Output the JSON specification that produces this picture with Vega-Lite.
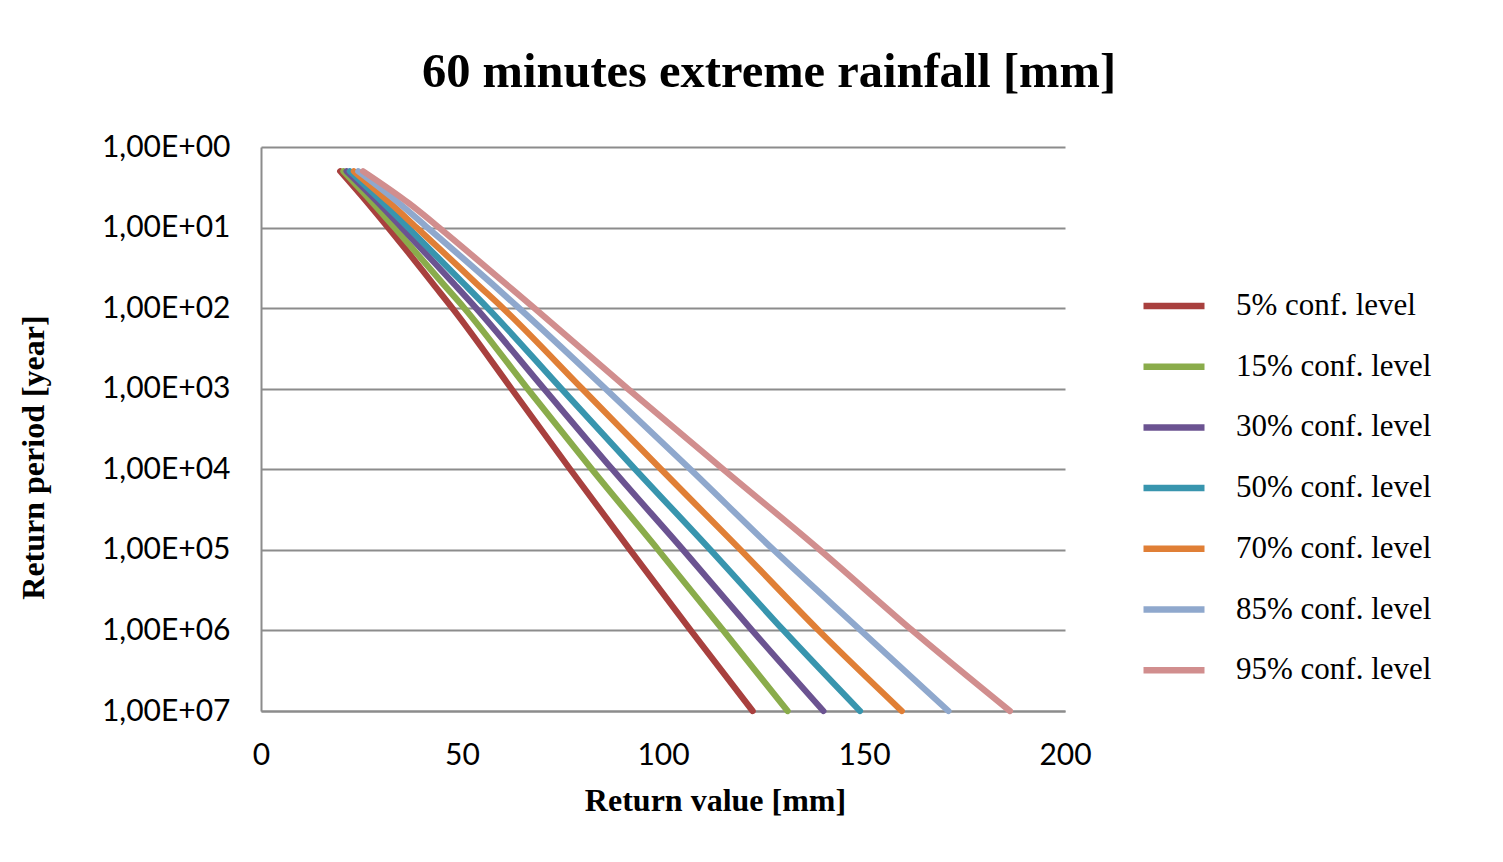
{
  "$schema": "https://vega.github.io/schema/vega-lite/v6.json",
  "width": 804,
  "height": 564,
  "autosize": "none",
  "padding": {"left": 261, "top": 147, "right": 438, "bottom": 151},
  "background": "white",
  "title": {
    "text": "60 minutes extreme rainfall [mm]",
    "font": "Liberation Serif",
    "fontWeight": "bold",
    "fontSize": 48.5,
    "color": "black",
    "anchor": "middle",
    "frame": "group",
    "dx": 106,
    "baseline": "alphabetic",
    "offset": -3
  },
  "data": {
    "values": [
      {"level": "5% conf. level", "T": 2, "v": 19.7},
      {"level": "5% conf. level", "T": 5, "v": 26.6},
      {"level": "5% conf. level", "T": 10, "v": 31.6},
      {"level": "5% conf. level", "T": 20, "v": 36.5},
      {"level": "5% conf. level", "T": 50, "v": 42.8},
      {"level": "5% conf. level", "T": 100, "v": 47.6},
      {"level": "5% conf. level", "T": 1000, "v": 62.3},
      {"level": "5% conf. level", "T": 10000, "v": 76.9},
      {"level": "5% conf. level", "T": 100000, "v": 91.8},
      {"level": "5% conf. level", "T": 1000000, "v": 106.9},
      {"level": "5% conf. level", "T": 10000000, "v": 122.3},
      {"level": "15% conf. level", "T": 2, "v": 20.5},
      {"level": "15% conf. level", "T": 5, "v": 27.9},
      {"level": "15% conf. level", "T": 10, "v": 33.2},
      {"level": "15% conf. level", "T": 20, "v": 38.4},
      {"level": "15% conf. level", "T": 50, "v": 45.3},
      {"level": "15% conf. level", "T": 100, "v": 50.6},
      {"level": "15% conf. level", "T": 1000, "v": 66.3},
      {"level": "15% conf. level", "T": 10000, "v": 82.3},
      {"level": "15% conf. level", "T": 100000, "v": 98.8},
      {"level": "15% conf. level", "T": 1000000, "v": 115.0},
      {"level": "15% conf. level", "T": 10000000, "v": 131.0},
      {"level": "30% conf. level", "T": 2, "v": 21.3},
      {"level": "30% conf. level", "T": 5, "v": 29.3},
      {"level": "30% conf. level", "T": 10, "v": 35.0},
      {"level": "30% conf. level", "T": 20, "v": 40.6},
      {"level": "30% conf. level", "T": 50, "v": 48.0},
      {"level": "30% conf. level", "T": 100, "v": 53.5},
      {"level": "30% conf. level", "T": 1000, "v": 70.4},
      {"level": "30% conf. level", "T": 10000, "v": 87.4},
      {"level": "30% conf. level", "T": 100000, "v": 105.0},
      {"level": "30% conf. level", "T": 1000000, "v": 122.2},
      {"level": "30% conf. level", "T": 10000000, "v": 139.9},
      {"level": "50% conf. level", "T": 2, "v": 22.1},
      {"level": "50% conf. level", "T": 5, "v": 30.5},
      {"level": "50% conf. level", "T": 10, "v": 36.6},
      {"level": "50% conf. level", "T": 20, "v": 42.6},
      {"level": "50% conf. level", "T": 50, "v": 50.5},
      {"level": "50% conf. level", "T": 100, "v": 56.4},
      {"level": "50% conf. level", "T": 1000, "v": 74.7},
      {"level": "50% conf. level", "T": 10000, "v": 93.1},
      {"level": "50% conf. level", "T": 100000, "v": 111.8},
      {"level": "50% conf. level", "T": 1000000, "v": 130.0},
      {"level": "50% conf. level", "T": 10000000, "v": 149.0},
      {"level": "70% conf. level", "T": 2, "v": 23.1},
      {"level": "70% conf. level", "T": 5, "v": 32.2},
      {"level": "70% conf. level", "T": 10, "v": 38.7},
      {"level": "70% conf. level", "T": 20, "v": 45.2},
      {"level": "70% conf. level", "T": 50, "v": 53.7},
      {"level": "70% conf. level", "T": 100, "v": 60.2},
      {"level": "70% conf. level", "T": 1000, "v": 79.9},
      {"level": "70% conf. level", "T": 10000, "v": 99.5},
      {"level": "70% conf. level", "T": 100000, "v": 119.3},
      {"level": "70% conf. level", "T": 1000000, "v": 138.7},
      {"level": "70% conf. level", "T": 10000000, "v": 159.4},
      {"level": "85% conf. level", "T": 2, "v": 24.2},
      {"level": "85% conf. level", "T": 5, "v": 34.4},
      {"level": "85% conf. level", "T": 10, "v": 41.4},
      {"level": "85% conf. level", "T": 20, "v": 48.4},
      {"level": "85% conf. level", "T": 50, "v": 57.5},
      {"level": "85% conf. level", "T": 100, "v": 64.2},
      {"level": "85% conf. level", "T": 1000, "v": 85.7},
      {"level": "85% conf. level", "T": 10000, "v": 106.8},
      {"level": "85% conf. level", "T": 100000, "v": 127.5},
      {"level": "85% conf. level", "T": 1000000, "v": 149.2},
      {"level": "85% conf. level", "T": 10000000, "v": 171.0},
      {"level": "95% conf. level", "T": 2, "v": 25.4},
      {"level": "95% conf. level", "T": 5, "v": 36.8},
      {"level": "95% conf. level", "T": 10, "v": 44.3},
      {"level": "95% conf. level", "T": 20, "v": 51.5},
      {"level": "95% conf. level", "T": 50, "v": 60.9},
      {"level": "95% conf. level", "T": 100, "v": 68.0},
      {"level": "95% conf. level", "T": 1000, "v": 91.2},
      {"level": "95% conf. level", "T": 10000, "v": 115.0},
      {"level": "95% conf. level", "T": 100000, "v": 139.0},
      {"level": "95% conf. level", "T": 1000000, "v": 162.0},
      {"level": "95% conf. level", "T": 10000000, "v": 186.3}
    ]
  },
  "mark": {"type": "line", "strokeWidth": 6.2, "strokeCap": "round", "strokeJoin": "round", "interpolate": "monotone"},
  "encoding": {
    "x": {
      "field": "v",
      "type": "quantitative",
      "scale": {"domain": [0, 200], "nice": false, "zero": false},
      "axis": {
        "values": [0, 50, 100, 150, 200],
        "title": "Return value [mm]",
        "titleFont": "Liberation Serif",
        "titleFontWeight": "bold",
        "titleFontSize": 32,
        "titleColor": "black",
        "titleX": 454,
        "titleY": 99,
        "titleBaseline": "alphabetic",
        "titleAlign": "center",
        "labelFont": "Lato",
        "labelFontSize": 30,
        "labelColor": "black",
        "labelPadding": 44,
        "labelBaseline": "middle",
        "ticks": false,
        "grid": false,
        "domainColor": "#8c8c8c",
        "domainWidth": 2,
        "labelFlush": false,
        "labelOverlap": false
      }
    },
    "y": {
      "field": "T",
      "type": "quantitative",
      "scale": {"type": "log", "domain": [1, 10000000], "reverse": true, "nice": false},
      "axis": {
        "values": [1, 10, 100, 1000, 10000, 100000, 1000000, 10000000],
        "labelExpr": "'1,00E+0' + round(log(datum.value) / LN10)",
        "title": "Return period [year]",
        "titleFont": "Liberation Serif",
        "titleFontWeight": "bold",
        "titleFontSize": 32,
        "titleColor": "black",
        "titleX": -228,
        "titleY": 310,
        "titleAngle": -90,
        "titleAlign": "center",
        "titleBaseline": "middle",
        "labelFont": "Lato",
        "labelFontSize": 30,
        "labelColor": "black",
        "labelPadding": 31,
        "ticks": false,
        "grid": true,
        "gridColor": "#8c8c8c",
        "gridWidth": 2,
        "gridOpacity": 1,
        "domainColor": "#8c8c8c",
        "domainWidth": 2,
        "labelFlush": false,
        "labelOverlap": false
      }
    },
    "color": {
      "field": "level",
      "type": "nominal",
      "scale": {
        "domain": ["5% conf. level", "15% conf. level", "30% conf. level", "50% conf. level", "70% conf. level", "85% conf. level", "95% conf. level"],
        "range": ["#a8403e", "#8aac4b", "#6b5391", "#3895ae", "#e07f36", "#8fa8cd", "#d18e8e"]
      },
      "legend": {
        "title": null,
        "orient": "none",
        "legendX": 879,
        "legendY": 125,
        "symbolType": "stroke",
        "symbolSize": 3721,
        "symbolStrokeWidth": 6.5,
        "labelFont": "Liberation Serif",
        "labelFontSize": 31,
        "labelColor": "black",
        "labelOffset": 28,
        "rowPadding": 11.7,
        "labelLimit": 400
      }
    }
  },
  "config": {
    "view": {"stroke": null}
  }
}
